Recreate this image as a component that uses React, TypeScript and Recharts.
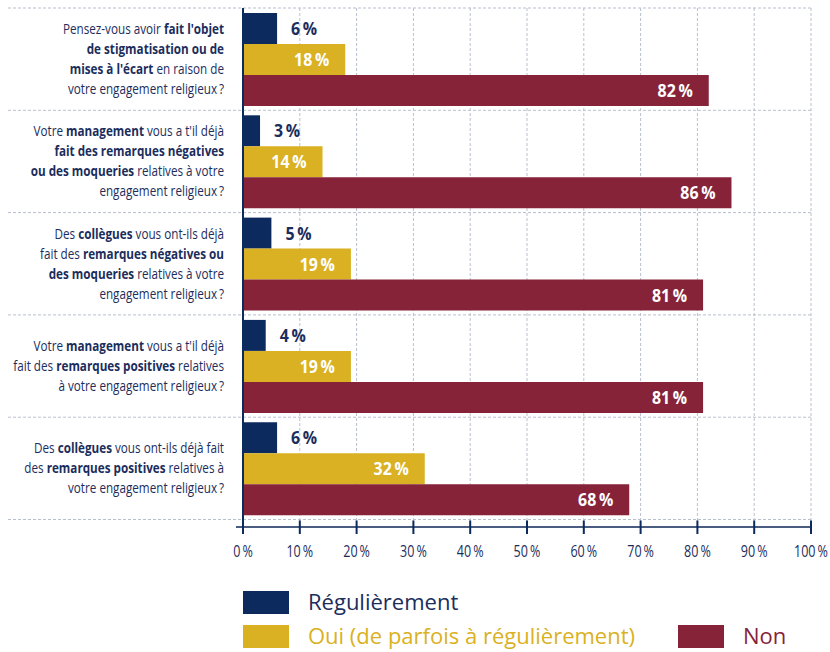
import React from "react";
import { BarChart, Bar, XAxis, YAxis, CartesianGrid, LabelList } from "recharts";

const questions = [
  "Pensez-vous avoir **fait l'objet**\n**de stigmatisation ou de**\n**mises à l'écart** en raison de\nvotre engagement religieux\u2009?",
  "Votre **management** vous a t'il déjà\n**fait des remarques négatives**\n**ou des moqueries** relatives à votre\nengagement religieux\u2009?",
  "Des **collègues** vous ont-ils déjà\nfait des **remarques négatives ou**\n**des moqueries** relatives à votre\nengagement religieux\u2009?",
  "Votre **management** vous a t'il déjà\nfait des **remarques positives** relatives\nà votre engagement religieux\u2009?",
  "Des **collègues** vous ont-ils déjà fait\ndes **remarques positives** relatives à\nvotre engagement religieux\u2009?",
];
const regulierement = [6, 3, 5, 4, 6];
const oui = [18, 14, 19, 19, 32];
const non = [82, 86, 81, 81, 68];
const xTicks = [0, 10, 20, 30, 40, 50, 60, 70, 80, 90, 100];

const series = [
  { key: "reg", name: "Régulièrement", color: "#0c2a5d" },
  { key: "oui", name: "Oui (de parfois à régulièrement)", color: "#d9b122" },
  { key: "non", name: "Non", color: "#862339" },
];

const data = questions.map((q, i) => ({
  label: q,
  reg: regulierement[i],
  oui: oui[i],
  non: non[i],
}));

const FONT = "'Open Sans', 'Noto Sans', sans-serif";
const NAVY_TEXT = "#1b2d5c";
const GRID = "#b9c0cd";
const PAD_BOTTOM = 7.5;

const pct = (v: any) => `${v}\u2009%`;

// condensed look: squeeze the glyphs horizontally around the anchor point
function QuestionTick(props: any) {
  const { x, y, payload } = props;
  const lines: string[] = String(payload.value).split("\n");
  const n = lines.length;
  return (
    <g transform={`translate(${x},${y}) scale(0.78,1)`}>
      <text x={0} y={0} textAnchor="end" fontFamily={FONT} fontSize={15} fill={NAVY_TEXT}>
        {lines.map((ln, i) => (
          <tspan key={i} x={0} y={(i - (n - 1) / 2) * 20 + 5}>
            {ln.split("**").map((seg, j) =>
              seg ? (
                <tspan key={j} fontWeight={j % 2 === 1 ? 700 : 400}>
                  {seg}
                </tspan>
              ) : null
            )}
          </tspan>
        ))}
      </text>
    </g>
  );
}

function PctTick(props: any) {
  const { x, y, payload } = props;
  return (
    <g>
      {payload.value === 0 && <line x1={x - 7} x2={x} y1={y} y2={y} stroke="#4a5c80" strokeWidth={2} />}
      <line x1={x} x2={x} y1={y - 6.5} y2={y + 7} stroke="#0c2a5d" strokeWidth={2} />
      <g transform={`translate(${x},${y + 30}) scale(0.76,1)`}>
        <text x={0} y={0} textAnchor="middle" fontFamily={FONT} fontSize={16.5} fill={NAVY_TEXT}>
          {pct(payload.value)}
        </text>
      </g>
    </g>
  );
}

function valueLabel(inside: boolean, color: string) {
  return (p: any) => {
    const { x, y, width, height, value } = p;
    const ax = inside ? x + width - 16 : x + width + 14;
    return (
      <g key={`${x}-${y}`} transform={`translate(${ax},${y + height / 2 + 6.5}) scale(0.86,1)`}>
        <text x={0} y={0} textAnchor={inside ? "end" : "start"} fontFamily={FONT} fontSize={18.5} fontWeight={700} fill={color}>
          {pct(value)}
        </text>
      </g>
    );
  };
}

export default function App() {
  return (
    <div style={{ position: "absolute", left: 0, top: 0, width: 830, height: 652, background: "#fff" }}>
      <BarChart
        width={830}
        height={580}
        data={data}
        layout="vertical"
        margin={{ top: 8, right: 19, bottom: 0, left: 0 }}
        barCategoryGap={5}
        barGap={0}
      >
        <CartesianGrid
          stroke={GRID}
          strokeDasharray="3 2"
          horizontalCoordinatesGenerator={({ offset }: any) => {
            const h = (offset.height - PAD_BOTTOM) / questions.length;
            return questions.map((_, i) => offset.top + i * h).concat(offset.top + questions.length * h);
          }}
          horizontal={(p: any) => (
            <line key={p.key} x1={8} x2={p.x2} y1={p.y1} y2={p.y2} stroke={GRID} strokeDasharray="3 2" />
          )}
        />
        <XAxis
          type="number"
          domain={[0, 100]}
          ticks={xTicks}
          height={53}
          axisLine={{ stroke: "#4a5c80", strokeWidth: 2 }}
          tickLine={false}
          tickSize={0}
          tickMargin={0}
          tick={<PctTick />}
          interval={0}
        />
        <YAxis
          type="category"
          dataKey="label"
          width={243}
          padding={{ top: 0, bottom: PAD_BOTTOM }}
          axisLine={{ stroke: "#0c2a5d", strokeWidth: 2 }}
          tickLine={false}
          tickSize={0}
          tickMargin={19}
          tick={<QuestionTick />}
          interval={0}
        />
        <Bar dataKey="reg" fill={series[0].color} isAnimationActive={false}>
          <LabelList dataKey="reg" content={valueLabel(false, NAVY_TEXT)} />
        </Bar>
        <Bar dataKey="oui" fill={series[1].color} isAnimationActive={false}>
          <LabelList dataKey="oui" content={valueLabel(true, "#ffffff")} />
        </Bar>
        <Bar dataKey="non" fill={series[2].color} isAnimationActive={false}>
          <LabelList dataKey="non" content={valueLabel(true, "#ffffff")} />
        </Bar>
      </BarChart>

      <div style={{ fontFamily: FONT, fontSize: 22 }}>
        <div style={{ position: "absolute", left: 243, top: 591, width: 46, height: 23, background: series[0].color }} />
        <div style={{ position: "absolute", left: 308, top: 587, lineHeight: "28px", color: NAVY_TEXT }}>{series[0].name}</div>
        <div style={{ position: "absolute", left: 243, top: 625, width: 46, height: 23, background: series[1].color }} />
        <div style={{ position: "absolute", left: 308, top: 621, lineHeight: "28px", color: series[1].color }}>{series[1].name}</div>
        <div style={{ position: "absolute", left: 678, top: 625, width: 46, height: 23, background: series[2].color }} />
        <div style={{ position: "absolute", left: 743, top: 621, lineHeight: "28px", color: series[2].color }}>{series[2].name}</div>
      </div>
    </div>
  );
}
